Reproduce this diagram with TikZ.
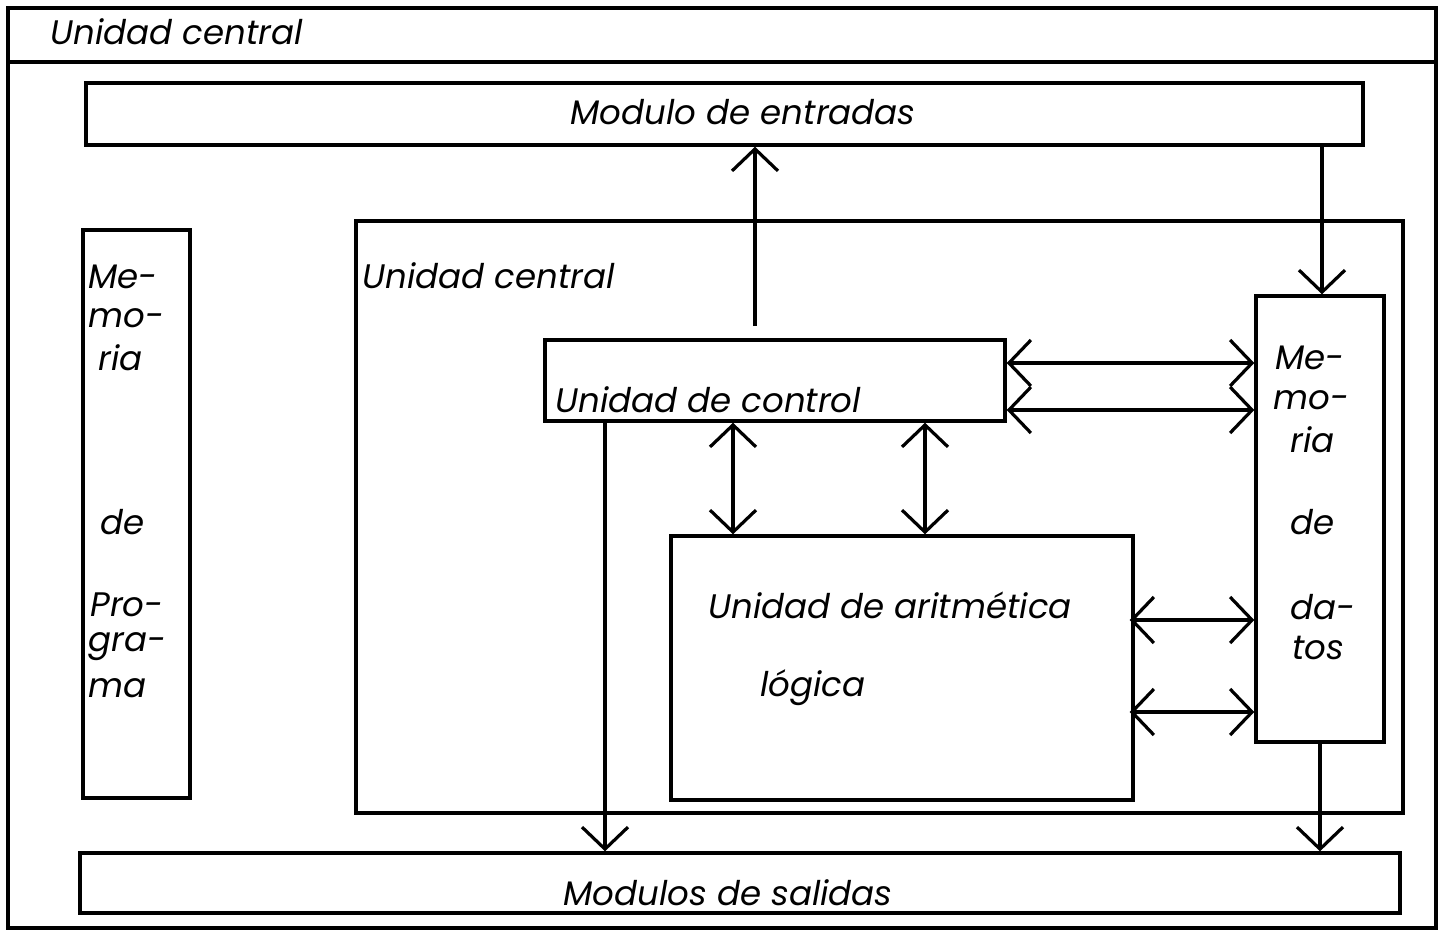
\documentclass[tikz,border=0pt]{standalone}
\usepackage{fontspec}
\setmainfont{Poppins}
\usetikzlibrary{arrows.meta,fit}
\tikzset{
  box/.style={draw, line width=1.7pt, inner sep=0pt},
  frame/.style={draw, line width=2.4pt, inner sep=0pt},
  txt/.style={font=\itshape\fontsize{17}{20}\selectfont, inner sep=0pt},
  wtxt/.style={txt, anchor=west},
  tip/.style={Straight Barb[length=11pt,width=23pt,line width=1.6pt]},
  arr/.style={line width=1.6pt, -{Straight Barb[length=11pt,width=23pt,line width=1.6pt]}},
  darr/.style={line width=1.6pt, {Straight Barb[length=11pt,width=23pt,line width=1.6pt]}-{Straight Barb[length=11pt,width=23pt,line width=1.6pt]}}
}
\begin{document}
\begin{tikzpicture}[x=0.5pt,y=-0.5pt]
\useasboundingbox (0,0) rectangle (1440,933);
% outer frame
\node[frame, fit={(8,8) (1436,928)}] (outer) {};
\coordinate (hl) at (8,62);
\coordinate (hr) at (1436,62);
\draw[line width=2.4pt] (hl) -- (hr);
\node[wtxt] (t0) at (50,32) {Unidad central};
% boxes
\node[box, fit={(86,83) (1363,145)}] (me) {};
\node[txt] (tme) at (743,112) {Modulo de entradas};
\node[box, fit={(83,230) (190,798)}] (mp) {};
\node[wtxt] (mp1) at (88,277) {Me-};
\node[wtxt] (mp2) at (88,318) {mo-};
\node[wtxt] (mp3) at (98,358) {ria};
\node[wtxt] (mp4) at (100,522) {de};
\node[wtxt] (mp5) at (90,605) {Pro-};
\node[wtxt] (mp6) at (88,647) {gra-};
\node[wtxt] (mp7) at (88,688) {ma};
\node[box, fit={(356,221) (1403,813)}] (ucen) {};
\node[wtxt] (tuc) at (362,276) {Unidad central};
\node[box, fit={(545,340) (1005,421)}] (uc) {};
\node[wtxt] (tctl) at (555,400) {Unidad de control};
\node[box, fit={(1256,296) (1384,742)}] (md) {};
\node[wtxt] (md1) at (1275,358) {Me-};
\node[wtxt] (md2) at (1273,400) {mo-};
\node[wtxt] (md3) at (1290,440) {ria};
\node[wtxt] (md4) at (1290,522) {de};
\node[wtxt] (md5) at (1290,607) {da-};
\node[wtxt] (md6) at (1292,648) {tos};
\node[box, fit={(671,536) (1133,800)}] (alu) {};
\node[wtxt] (alu1) at (708,605) {Unidad de aritmética};
\node[wtxt] (alu2) at (760,688) {lógica};
\node[box, fit={(80,853) (1400,913)}] (ms) {};
\node[txt] (tms) at (728,893) {Modulos de salidas};
% connectors
\coordinate (a1) at (755,326);
\draw[arr] (a1) -- (me.south -| a1);
\coordinate (a2) at (1322,0);
\draw[arr] (me.south -| a2) -- (md.north -| a2);
\coordinate (r1) at (0,363);
\coordinate (r2) at (0,410);
\draw[darr] (uc.east |- r1) -- (md.west |- r1);
\draw[darr] (uc.east |- r2) -- (md.west |- r2);
\coordinate (v1) at (733,0);
\coordinate (v2) at (925,0);
\draw[darr] (uc.south -| v1) -- (alu.north -| v1);
\draw[darr] (uc.south -| v2) -- (alu.north -| v2);
\coordinate (r3) at (0,620);
\coordinate (r4) at (0,712);
\draw[darr] ([xshift=-2.5pt]alu.east |- r3) -- (md.west |- r3);
\draw[darr] ([xshift=-2.5pt]alu.east |- r4) -- (md.west |- r4);
\coordinate (v3) at (605,0);
\draw[arr] (uc.south -| v3) -- (ms.north -| v3);
\coordinate (v4) at (1320,0);
\draw[arr] (md.south -| v4) -- (ms.north -| v4);
\end{tikzpicture}
\end{document}
